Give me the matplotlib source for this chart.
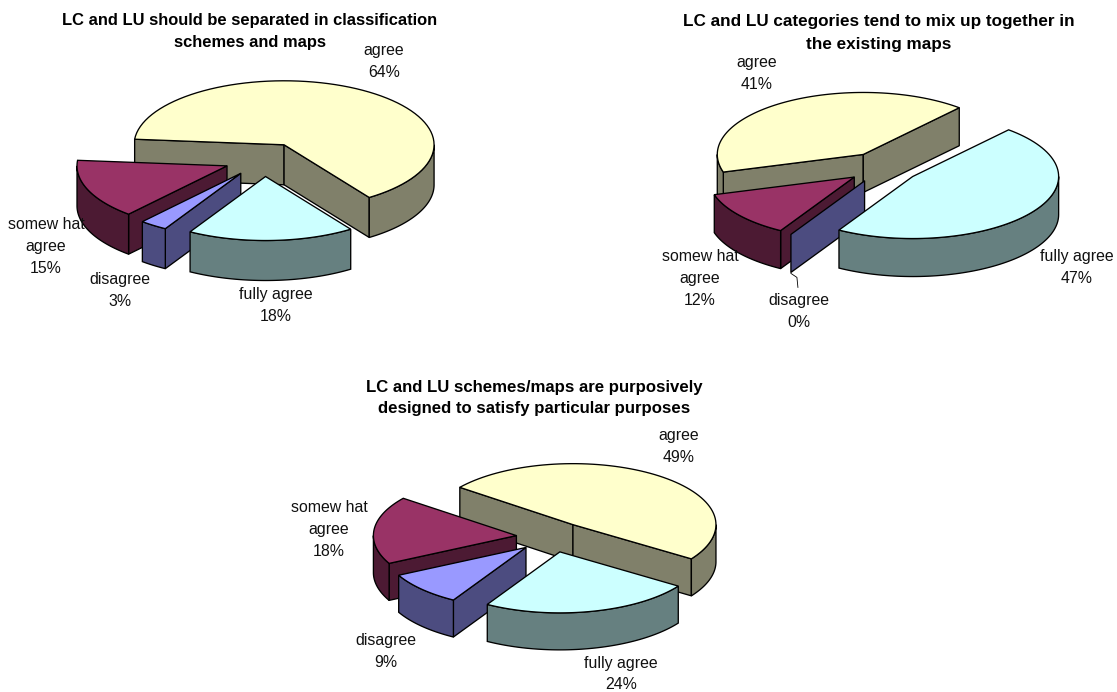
import matplotlib
matplotlib.use('Agg')
import matplotlib.pyplot as plt
from matplotlib.patches import Polygon
import numpy as np

plt.rcParams['font.family'] = ['Liberation Sans', 'DejaVu Sans']

# survey answers, in percent
categories = ['agree', 'fully agree', 'disagree', 'somew hat\nagree']
separated = [64, 18, 3, 15]
mixed_up = [41, 47, 0, 12]
purposive = [49, 24, 9, 18]

title_separated = ['LC and LU should be separated in classification', 'schemes and maps']
title_mixed = ['LC and LU categories tend to mix up together in', 'the existing maps']
title_purposive = ['LC and LU schemes/maps are purposively', 'designed to satisfy particular purposes']

top_colors = ['#FFFFCC', '#CCFFFF', '#9999FF', '#993366']
side_colors = ['#80806A', '#668080', '#4C4C80', '#4C1A33']

# back to front
draw_order = [0, 3, 2, 1]

fig = plt.figure(figsize=(11.17, 6.92), dpi=100)
ax = fig.add_axes([0, 0, 1, 1])
ax.set_xlim(0, 1117)
ax.set_ylim(692, 0)
ax.axis('off')


def ring(cx, cy, rx, ry, t1, t2, n=80):
    t = np.radians(np.linspace(t1, t2, n))
    return np.column_stack([cx + rx * np.cos(t), cy - ry * np.sin(t)])


def wall(ax, p, q, depth, color):
    pts = [p, q, (q[0], q[1] + depth), (p[0], p[1] + depth)]
    ax.add_patch(Polygon(pts, closed=True, fc=color, ec='black', lw=0.95, joinstyle='round'))


def draw_pie(values, center, rx, ry, pull, depth, start):
    # slices run clockwise from the start angle, each pulled out along its middle
    cx, cy = center
    ends = start - np.cumsum(values) * 3.6
    starts = np.concatenate([[start], ends[:-1]])
    for i in draw_order:
        t1, t2 = starts[i], ends[i]
        mid = np.radians((t1 + t2) / 2)
        ax_x = cx + pull * rx * np.cos(mid)
        ax_y = cy - pull * ry * np.sin(mid)
        apex = (ax_x, ax_y)
        first = ring(ax_x, ax_y, rx, ry, t1, t1, 1)[0]
        last = ring(ax_x, ax_y, rx, ry, t2, t2, 1)[0]
        # only the walls turned towards the viewer
        if np.cos(np.radians(t1)) < 0:
            wall(ax, apex, first, depth, side_colors[i])
        if np.cos(np.radians(t2)) > 0:
            wall(ax, apex, last, depth, side_colors[i])
        # front part of the rim
        for k in [-1, 0, 1]:
            a = max(t2, -180 + 360 * k)
            b = min(t1, 360 * k)
            if b > a:
                top = ring(ax_x, ax_y, rx, ry, a, b)
                low = top[::-1] + [0, depth]
                ax.add_patch(Polygon(np.vstack([top, low]), closed=True, fc=side_colors[i],
                                     ec='black', lw=0.95))
        if values[i] > 0:
            arc = ring(ax_x, ax_y, rx, ry, t1, t2)
            ax.add_patch(Polygon(np.vstack([[apex], arc]), closed=True, fc=top_colors[i],
                                 ec='black', lw=0.95))
        else:
            # empty slice still gets a leader line to its label
            ax.plot([first[0], first[0] + 6, first[0] + 7],
                    [first[1] + depth + 1, first[1] + depth + 5, first[1] + depth + 15],
                    color='black', lw=0.6)


def labels(values, places):
    for name, val, (x, y) in zip(categories, values, places):
        ax.text(x, y, name + '\n' + str(val) + '%', ha='center', va='center',
                fontsize=11.4, linespacing=1.55, color='#111111')


def title(lines, x, baselines, size):
    for line, y in zip(lines, baselines):
        ax.text(x, y, line, ha='center', va='baseline', fontsize=size, fontweight='bold',
                color='black')


draw_pie(separated, (264, 159.5), 150, 64, 0.266, 40, 175)
draw_pie(mixed_up, (883, 167.5), 146, 62, 0.25, 38, 196.5)
draw_pie(purposive, (552, 537), 143, 61, 0.25, 37, 142.3)

labels(separated, [(384, 61.5), (276, 305.5), (120, 290.5), (46, 246.5)])
labels(mixed_up, [(757, 73.5), (1077, 267.5), (799, 311.5), (700, 278.5)])
labels(purposive, [(679, 446.5), (621, 674), (386, 651.5), (329, 529.5)])

title(title_separated, 250, [25, 47], 11.9)
title(title_mixed, 879, [26, 49], 12.3)
title(title_purposive, 534, [392, 413], 12.05)

fig.savefig('out.png', dpi=100)
